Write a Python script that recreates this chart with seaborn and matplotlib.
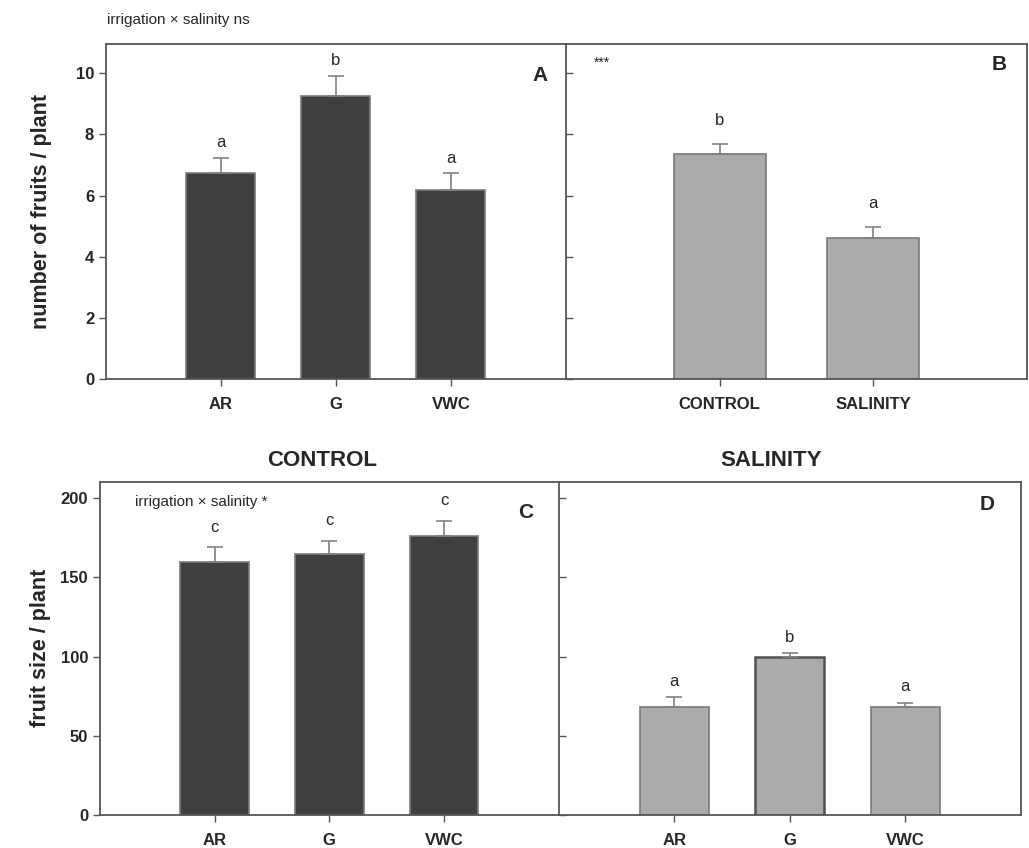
import matplotlib
matplotlib.use("Agg")
import matplotlib.pyplot as plt
import seaborn as sns
import pandas as pd
import numpy as np

sns.set_style("ticks")
plt.rcParams['font.family'] = ['Liberation Sans', 'DejaVu Sans']

# data
irrigation = ["AR", "G", "VWC"]
salinity = ["CONTROL", "SALINITY"]

fruits_irr = [6.72, 9.26, 6.17]
fruits_irr_se = [0.52, 0.65, 0.55]
fruits_irr_letters = ["a", "b", "a"]

fruits_sal = [7.35, 4.62]
fruits_sal_se = [0.35, 0.35]
fruits_sal_letters = ["b", "a"]

size_control = [159.5, 165, 176.4]
size_control_se = [9.5, 8, 9.5]
size_control_letters = ["c", "c", "c"]

size_salinity = [68, 99.5, 68]
size_salinity_se = [6.5, 2.5, 3]
size_salinity_letters = ["a", "b", "a"]

dark = "#404040"
light = "#ababab"
edge = "#7a7a7a"
spine_col = "#555555"


def draw_panel(ax, cats, vals, errs, letters, color, ylim, yticks, letter_gap,
               show_ylabels=True):
    df = pd.DataFrame({"cat": cats, "val": vals})
    sns.barplot(data=df, x="cat", y="val", color=color, width=0.6,
                edgecolor=edge, linewidth=1.2, saturation=1, ax=ax)
    x = np.arange(len(cats))
    ax.errorbar(x, vals, yerr=[np.zeros(len(errs)), errs], fmt="none",
                ecolor="#808080", elinewidth=1.2, capsize=6, capthick=1.2)
    for xi, v, e, t in zip(x, vals, errs, letters):
        ax.text(xi, v + e + letter_gap, t, ha="center", va="baseline", fontsize=12)
    ax.set_xlim(-1, len(cats))
    ax.set_ylim(*ylim)
    ax.set_yticks(yticks)
    ax.set_xlabel("")
    ax.set_ylabel("")
    for s in ax.spines.values():
        s.set_color(spine_col)
        s.set_linewidth(1.3)
    ax.tick_params(axis="x", length=5, width=1, color=spine_col, pad=8,
                   labelsize=12)
    for lab in ax.get_xticklabels():
        lab.set_fontweight("bold")
    if show_ylabels:
        ax.tick_params(axis="y", length=5, width=1, color=spine_col,
                       labelsize=12, direction="out")
        for lab in ax.get_yticklabels():
            lab.set_fontweight("bold")
    else:
        ax.tick_params(axis="y", length=5, width=1, color=spine_col,
                       labelleft=False, direction="in")


fig = plt.figure(figsize=(10.29, 8.48), dpi=100)

axA = fig.add_axes([0.103, 0.553, 0.447, 0.395])
axB = fig.add_axes([0.550, 0.553, 0.448, 0.395])
axC = fig.add_axes([0.097, 0.039, 0.446, 0.393])
axD = fig.add_axes([0.543, 0.039, 0.449, 0.393])

draw_panel(axA, irrigation, fruits_irr, fruits_irr_se, fruits_irr_letters,
           dark, (0, 10.95), [0, 2, 4, 6, 8, 10], 0.35)
axA.spines["right"].set_visible(False)
draw_panel(axB, salinity, fruits_sal, fruits_sal_se, fruits_sal_letters,
           light, (0, 10.95), [0, 2, 4, 6, 8, 10], 0.62, show_ylabels=False)
draw_panel(axC, irrigation, size_control, size_control_se, size_control_letters,
           dark, (0, 210.5), [0, 50, 100, 150, 200], 10)
axC.spines["right"].set_visible(False)
draw_panel(axD, irrigation, size_salinity, size_salinity_se, size_salinity_letters,
           light, (0, 210.5), [0, 50, 100, 150, 200], 7, show_ylabels=False)
# G bar in D has a darker outline
axD.patches[1].set_edgecolor("#505050")
axD.patches[1].set_linewidth(1.8)

axA.set_ylabel("number of fruits / plant", fontsize=15.5, fontweight="bold", labelpad=17)
axC.set_ylabel("fruit size / plant", fontsize=15.5, fontweight="bold", labelpad=7)

for ax, lab, pos in [(axA, "A", (0.943, 0.907)), (axB, "B", (0.94, 0.94)),
                     (axC, "C", (0.928, 0.907)), (axD, "D", (0.927, 0.93))]:
    ax.text(*pos, lab, transform=ax.transAxes, ha="center", va="center",
            fontsize=15, fontweight="bold")

fig.text(0.104, 0.977, "irrigation \u00d7 salinity ns", fontsize=11, va="center")
axB.text(0.06, 0.945, "***", transform=axB.transAxes, fontsize=10, va="center")
axC.text(0.076, 0.94, "irrigation \u00d7 salinity *", transform=axC.transAxes,
         fontsize=11, va="center")

fig.text(0.313, 0.457, "CONTROL", fontsize=16, fontweight="bold",
         ha="center", va="center")
fig.text(0.749, 0.457, "SALINITY", fontsize=16, fontweight="bold",
         ha="center", va="center")

fig.savefig("out.png", dpi=100)
